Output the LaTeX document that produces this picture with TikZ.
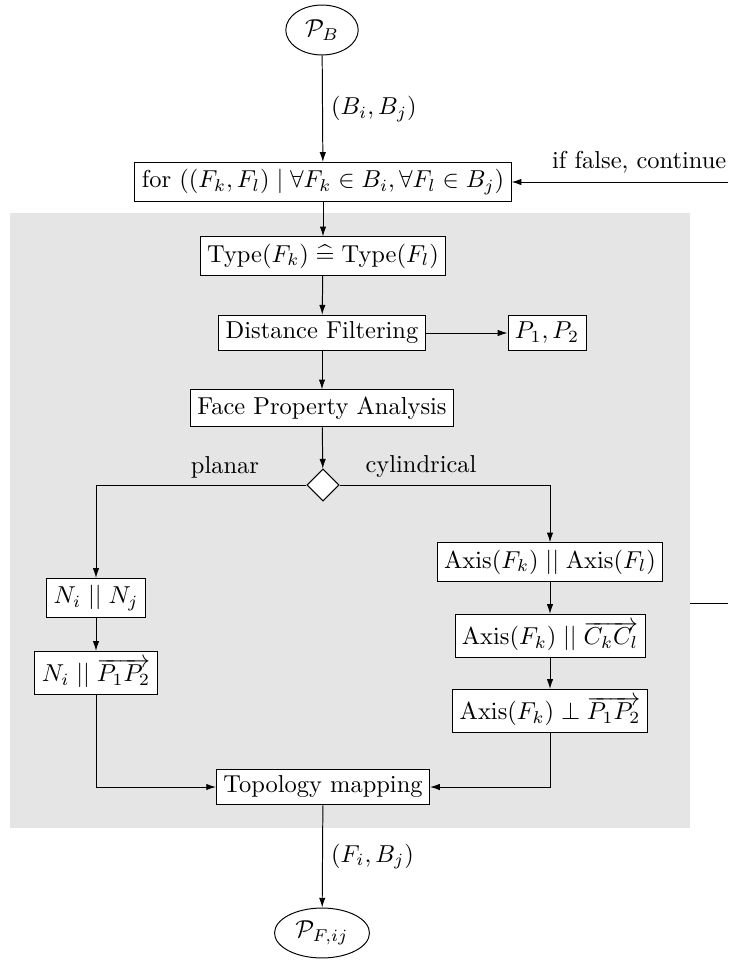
\documentclass[tikz,border=0pt]{standalone}
\usetikzlibrary{shapes.geometric,arrows.meta}
\begin{document}
\begin{tikzpicture}[x=0.4086pt,y=-0.4086pt, >={Latex[length=4pt,width=2.6pt]},
  line width=0.4pt,
  box/.style={draw, fill=white, inner sep=2.8pt},
  term/.style={draw, ellipse, fill=white, inner sep=0pt, minimum height=20.4pt},
  dec/.style={draw, diamond, fill=white, inner sep=0pt, minimum size=13.1pt}]
\useasboundingbox (0,0) rectangle (728,967);
\fill[gray!20] (10,213) rectangle (690,828);
\node[term, minimum width=29.6pt] (pb) at (322,30) {$\mathcal{P}_B$};
\node[box] (for) at (323,182) {for $((F_k,F_l)\mid \forall F_k\in B_i, \forall F_l\in B_j)$};
\node[box] (type) at (323,256) {$\mathrm{Type}(F_k)\mathrel{\widehat{=}}\mathrm{Type}(F_l)$};
\node[box] (dist) at (322,333) {Distance Filtering};
\node[box] (p12) at (547,333) {$P_1,P_2$};
\node[box] (face) at (322,408) {Face Property Analysis};
\node[dec] (dia) at (323,485) {};
\node[box] (n1) at (96,598) {$N_i\mathrel{||}N_j$};
\node[box] (n2) at (96,673) {$N_i\mathrel{||}\overrightarrow{P_1P_2}$};
\node[box] (ax1) at (550,562) {$\mathrm{Axis}(F_k)\mathrel{||}\mathrm{Axis}(F_l)$};
\node[box] (ax2) at (550,636) {$\mathrm{Axis}(F_k)\mathrel{||}\overrightarrow{C_kC_l}$};
\node[box] (ax3) at (550,711) {$\mathrm{Axis}(F_k)\perp\overrightarrow{P_1P_2}$};
\node[box] (topo) at (323,787) {Topology mapping};
\node[term, minimum width=38.8pt] (pf) at (322,933) {$\mathcal{P}_{F,ij}$};
\node (lplanar) at (225,467) {planar};
\node (lcyl) at (421,467) {cylindrical};
\coordinate (fbin) at (728,182);
\coordinate (fbout1) at (690,603);
\coordinate (fbout2) at (728,603);
\draw[->] (pb) -- node[right] {$(B_i,B_j)$} (for);
\draw[->] (for) -- (type);
\draw[->] (type) -- (dist);
\draw[->] (dist) -- (p12);
\draw[->] (dist) -- (face);
\draw[->] (face) -- (dia);
\draw[->] (dia.west) -| (n1);
\draw[->] (dia.east) -| (ax1);
\draw[->] (n1) -- (n2);
\draw[->] (ax1) -- (ax2);
\draw[->] (ax2) -- (ax3);
\draw[->] (n2) |- (topo);
\draw[->] (ax3) |- (topo);
\draw[->] (topo) -- node[right] {$(F_i,B_j)$} (pf);
\draw[->] (fbin) -- node[above, pos=0.41] {if false, continue} (for);
\draw (fbout1) -- (fbout2);
\end{tikzpicture}
\end{document}
